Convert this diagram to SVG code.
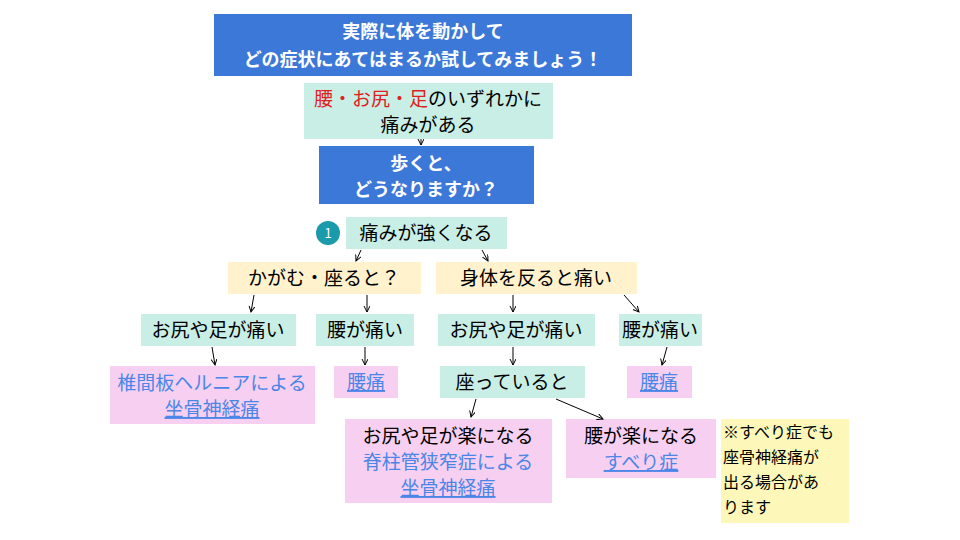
<svg xmlns="http://www.w3.org/2000/svg" width="960" height="540" viewBox="0 0 960 540">
<style>
text{font-family:"Noto Sans CJK JP","Noto Sans",sans-serif;font-size:19px;text-anchor:middle}
.bt{fill:#fff;font-weight:bold;font-size:18px}
.blue{fill:#3c78d8}
.teal{fill:#c9eee5}
.yel{fill:#fff2cc}
.pink{fill:#f7d0f1}
.lk{fill:#4a86e8}
.u{text-decoration:underline}
.nt{text-anchor:start;font-size:16px}
.c line{stroke:#000;stroke-width:1;marker-end:url(#a)}
</style>
<defs><marker id="a" markerWidth="8" markerHeight="8" refX="6" refY="3" orient="auto"><path d="M0,0L6,3L0,6" fill="none" stroke="#000"/></marker></defs>
<rect width="960" height="540" fill="#fff"/>
<g id="title"><rect class="blue" x="214" y="14" width="418" height="62"/><text class="bt" x="423" y="38">実際に体を動かして</text><text class="bt" x="423" y="66">どの症状にあてはまるか試してみましょう！</text></g>
<g id="pain"><rect class="teal" x="304" y="83" width="249" height="56"/><text x="428" y="106"><tspan fill="#e02020">腰・お尻・足</tspan>のいずれかに</text><text x="428" y="132">痛みがある</text></g>
<g id="walk"><rect class="blue" x="319" y="146" width="215" height="58"/><text class="bt" x="426" y="170">歩くと、</text><text class="bt" x="426" y="196">どうなりますか？</text></g>
<g id="n1"><circle cx="328" cy="233" r="12" fill="#1a9aaa"/><text x="328" y="238" style="font-size:13px;fill:#fff">1</text></g>
<g id="strong"><rect class="teal" x="346" y="217" width="161" height="32"/><text x="426" y="240">痛みが強くなる</text></g>
<g id="bend"><rect class="yel" x="228" y="262" width="193" height="32"/><text x="324" y="285">かがむ・座ると？</text></g>
<g id="arch"><rect class="yel" x="436" y="262" width="201" height="32"/><text x="536" y="285">身体を反ると痛い</text></g>
<g id="b1"><rect class="teal" x="141" y="314" width="155" height="32"/><text x="218" y="337">お尻や足が痛い</text></g>
<g id="b2"><rect class="teal" x="316" y="314" width="98" height="32"/><text x="365" y="337">腰が痛い</text></g>
<g id="b3"><rect class="teal" x="438" y="314" width="157" height="32"/><text x="516" y="337">お尻や足が痛い</text></g>
<g id="b4"><rect class="teal" x="619" y="314" width="83" height="32"/><text x="660" y="337">腰が痛い</text></g>
<g id="hernia"><rect class="pink" x="110" y="366" width="205" height="58"/><text class="lk" x="212" y="390">椎間板ヘルニアによる</text><text class="lk u" x="212" y="416">坐骨神経痛</text></g>
<g id="lb1"><rect class="pink" x="334" y="366" width="64" height="32"/><text class="lk u" x="366" y="389">腰痛</text></g>
<g id="sit"><rect class="teal" x="440" y="366" width="145" height="32"/><text x="512" y="389">座っていると</text></g>
<g id="lb2"><rect class="pink" x="627" y="366" width="65" height="32"/><text class="lk u" x="659" y="389">腰痛</text></g>
<g id="sten"><rect class="pink" x="345" y="419" width="207" height="84"/><text x="448" y="443">お尻や足が楽になる</text><text class="lk" x="448" y="469">脊柱管狭窄症による</text><text class="lk u" x="448" y="495">坐骨神経痛</text></g>
<g id="slip"><rect class="pink" x="566" y="419" width="150" height="59"/><text x="641" y="443">腰が楽になる</text><text class="lk u" x="641" y="469">すべり症</text></g>
<g id="note"><rect fill="#fdf8b9" x="721" y="419" width="128" height="104"/><text class="nt" x="723" y="438">※すべり症でも</text><text class="nt" x="723" y="463">座骨神経痛が</text><text class="nt" x="723" y="488">出る場合があ</text><text class="nt" x="723" y="513">ります</text></g>
<g class="c" id="connectors">
<line x1="421" y1="139" x2="421" y2="145"/>
<line x1="361" y1="250" x2="356" y2="261"/>
<line x1="482" y1="250" x2="488" y2="261"/>
<line x1="254" y1="295" x2="251" y2="312"/>
<line x1="367" y1="295" x2="367" y2="312"/>
<line x1="513" y1="295" x2="513" y2="312"/>
<line x1="624" y1="295" x2="639" y2="312"/>
<line x1="212" y1="347" x2="215" y2="365"/>
<line x1="365" y1="347" x2="365" y2="365"/>
<line x1="513" y1="347" x2="513" y2="365"/>
<line x1="667" y1="347" x2="662" y2="365"/>
<line x1="476" y1="399" x2="471" y2="417"/>
<line x1="556" y1="399" x2="603" y2="419"/>
</g>
</svg>
